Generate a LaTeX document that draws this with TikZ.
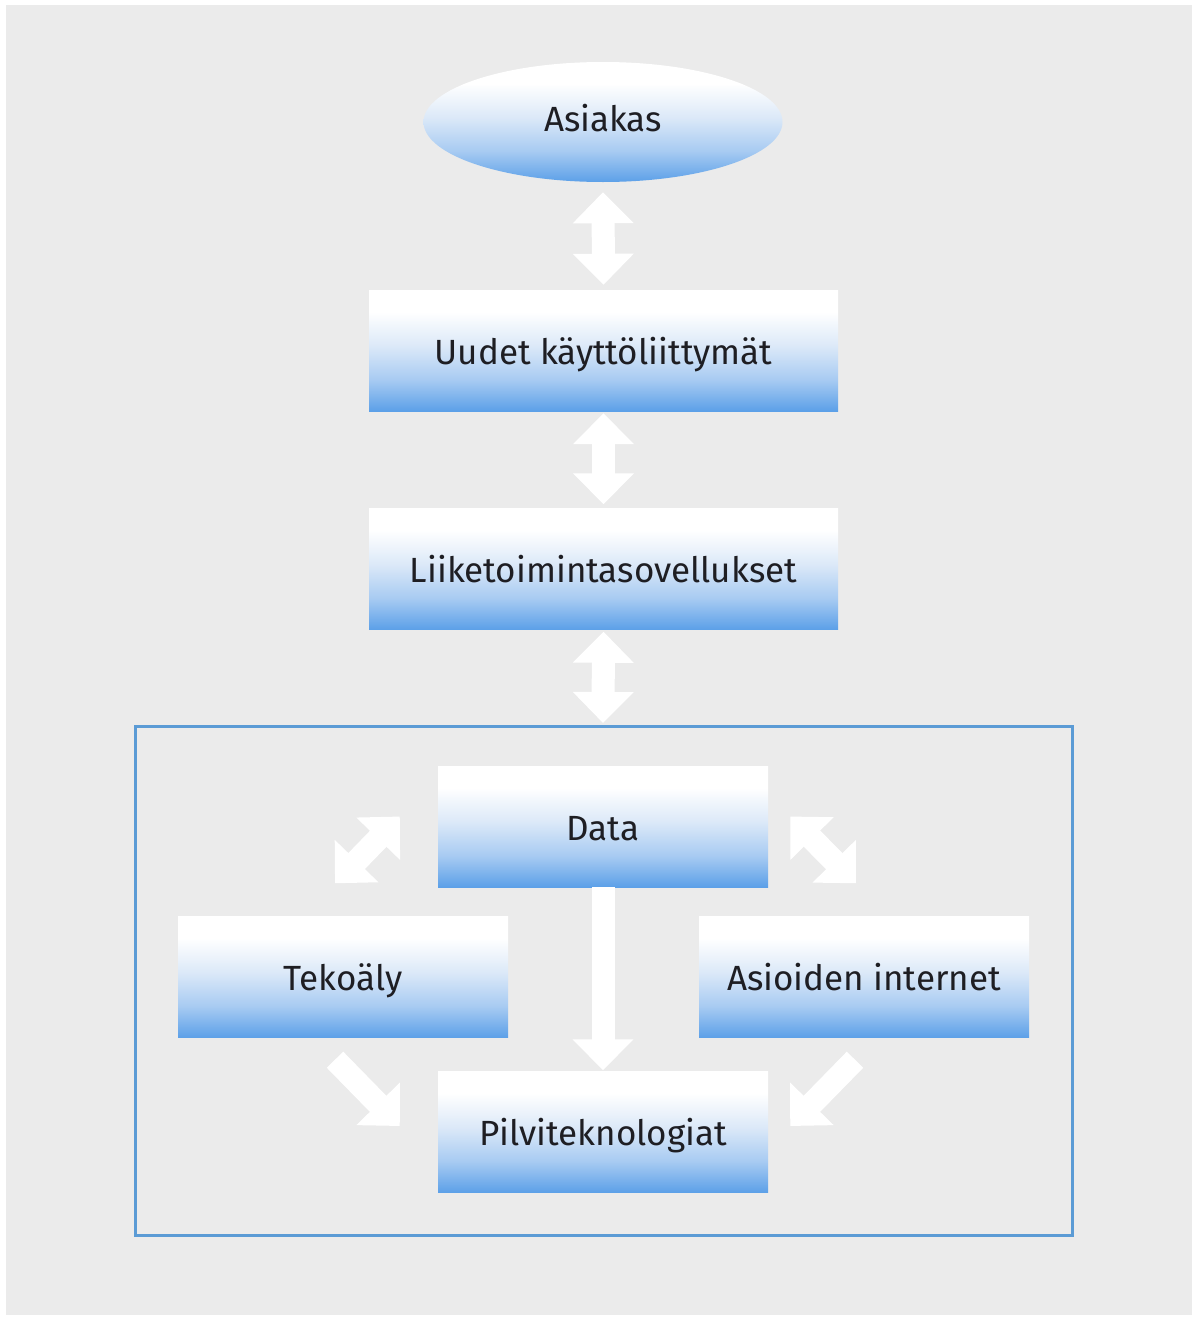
\documentclass[tikz,border=0pt]{standalone}
\usepackage{fontspec}
\setmainfont{Fira Sans}
\usetikzlibrary{shapes.geometric,arrows.meta,calc}

\definecolor{pagegray}{RGB}{235,235,235}
\definecolor{frameblue}{RGB}{91,155,213}
\definecolor{bbot}{RGB}{92,160,232}
\definecolor{bmid}{RGB}{168,203,242}
\definecolor{blight}{RGB}{220,233,248}
\definecolor{txt}{RGB}{30,30,35}

% white at the top fading to blue at the bottom
\pgfdeclareverticalshading{boxshade}{100bp}{%
  color(0bp)=(bbot); color(25bp)=(bbot); color(38bp)=(bmid);
  color(52bp)=(blight); color(66bp)=(white); color(100bp)=(white)}

\tikzset{
  layer/.style={rectangle, shading=boxshade, inner sep=0pt,
    minimum width=469pt, minimum height=121pt,
    text height=27pt, text depth=0pt,
    font=\fontsize{35}{40}\selectfont, text=txt},
  smallbox/.style={layer, minimum width=330pt},
  endpoint/.style={ellipse, shading=boxshade, inner sep=0pt,
    minimum width=359pt, minimum height=120pt,
    text height=19pt, text depth=0pt,
    font=\fontsize{35}{40}\selectfont, text=txt},
  blockarrow/.style={draw=white, line width=23pt, line cap=butt},
  onehead/.style={blockarrow, -{Triangle[width=59pt,length=31pt]}},
  twohead/.style={blockarrow, {Triangle[width=59pt,length=31pt]}-{Triangle[width=59pt,length=31pt]}},
}

\begin{document}
\begin{tikzpicture}[x=1pt,y=-1pt]
  \useasboundingbox (0,0) rectangle (1198,1317);
  \fill[white] (0,0) rectangle (1198,1317);
  \fill[pagegray] (6,5) rectangle (1192,1315);

  % layers
  \node[endpoint] (asiakas) at (603,122) {Asiakas};
  \node[layer] (uudet) at (603.5,350.5) {Uudet käyttöliittymät};
  \node[layer] (liike) at (603.5,569) {Liiketoimintasovellukset};

  % technology frame
  \draw[frameblue, line width=3pt] (135,726) rectangle (1072,1235);
  \coordinate (frametop) at (603,726);

  \node[smallbox] (data) at (603,826.5) {Data};
  \node[smallbox] (tekoaly) at (343,977) {Tekoäly};
  \node[smallbox] (iot) at (864,977) {Asioiden internet};
  \node[smallbox] (pilvi) at (603,1132) {Pilviteknologiat};

  % vertical two-way arrows
  \draw[twohead] ($(asiakas.south)+(0,10)$) -- ($(uudet.north)+(0,-5)$);
  \draw[twohead] ($(uudet.south)+(0,2)$) -- ($(liike.north)+(0,-4)$);
  \draw[twohead] ($(liike.south)+(0,2)$) -- ($(frametop)+(0,-3)$);

  % arrows inside the frame
  \draw[twohead] ($(tekoaly.north)+(-8,-33)$) -- ($(data.west)+(-38,-10)$);
  \draw[twohead] ($(data.east)+(22,-10)$) -- ($(iot.north)+(-8,-33)$);
  \draw[onehead] (data.south) -- ($(pilvi.north)+(0,-1)$);
  \draw[onehead] ($(tekoaly.south)+(-8,22)$) -- ($(pilvi.west)+(-38,-6)$);
  \draw[onehead] ($(iot.south)+(-9,22)$) -- ($(pilvi.east)+(22,-6)$);
\end{tikzpicture}
\end{document}
